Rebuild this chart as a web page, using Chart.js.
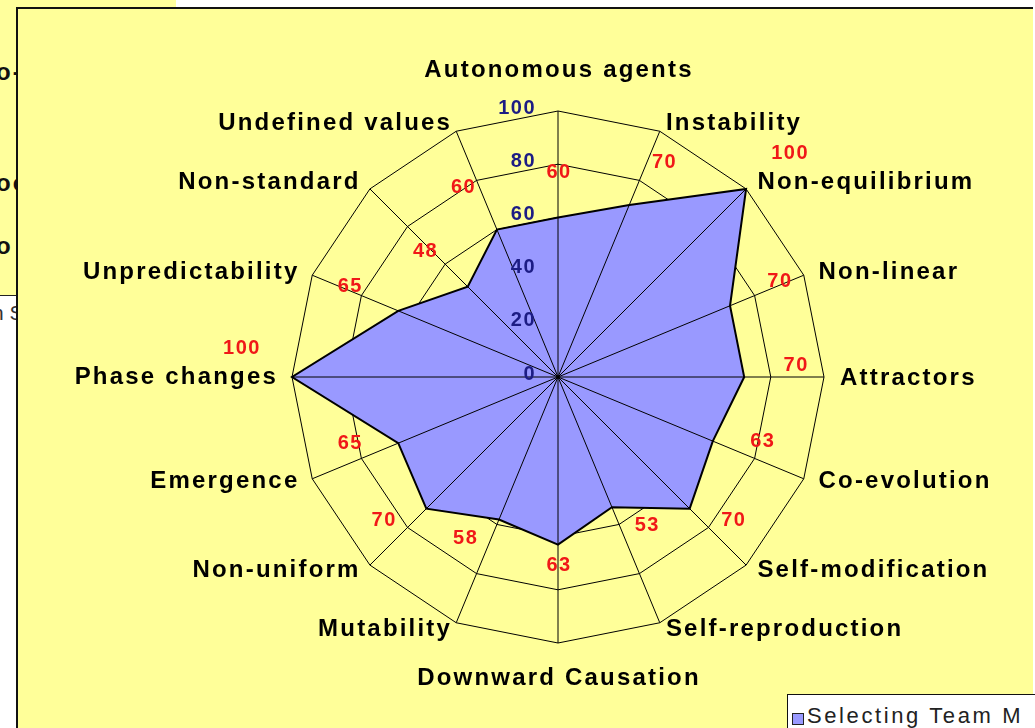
<!DOCTYPE html>
<html>
<head>
<meta charset="utf-8">
<script src="https://cdn.jsdelivr.net/npm/chart.js@4.4.1/dist/chart.umd.min.js"></script>
<style>
    html, body {
        margin: 0;
        padding: 0;
        width: 1035px;
        height: 728px;
        overflow: hidden;
        background: #ffffff;
        font-family: "Liberation Sans", Arial, sans-serif;
    }
    .back-chart {
        position: absolute;
        left: 0;
        top: 0;
        width: 176px;
        height: 295px;
        background: #ffff9c;
        border-bottom: 1px solid #222;
    }
    .back-chart span {
        position: absolute;
        font-size: 24px;
        font-weight: bold;
        letter-spacing: 2px;
        color: #111;
        line-height: 26px;
    }
    .back-legend {
        position: absolute;
        left: 0;
        top: 296px;
        width: 40px;
        height: 34px;
        background: #fff;
        overflow: hidden;
    }
    .back-legend span {
        position: absolute;
        left: -8px;
        top: 5px;
        font-size: 21px;
        color: #333;
        white-space: nowrap;
    }
    .frame {
        position: absolute;
        left: 16px;
        top: 7px;
        width: 1017px;
        height: 740px;
        box-sizing: border-box;
        background: #ffff99;
        border-left: 2px solid #111;
        border-top: 2px solid #111;
    }
    #radar-chart {
        position: absolute;
        left: 0;
        top: 0;
    }
    .legend {
        position: absolute;
        left: 787px;
        top: 694px;
        width: 320px;
        height: 50px;
        background: #fff;
        border: 1px solid #111;
        white-space: nowrap;
    }
    .legend .swatch {
        position: absolute;
        left: 4px;
        top: 18px;
        width: 10px;
        height: 10px;
        background: #9999ff;
        border: 1px solid #222;
    }
    .legend .text {
        position: absolute;
        left: 19px;
        top: 9px;
        font-size: 22px;
        letter-spacing: 2.6px;
        color: #222;
        line-height: 24px;
    }
</style>
</head>
<body>

<div class="back-chart">
    <span style="left:-4px; top:59px;">o-</span>
    <span style="left:-4px; top:170px;">oc</span>
    <span style="left:-4px; top:233px;">o</span>
</div>
<div class="back-legend"><span>n S</span></div>

<div class="frame"></div>

<canvas id="radar-chart" width="1035" height="728"></canvas>

<div class="legend">
    <div class="swatch"></div>
    <div class="text"></div>
</div>

<script>
const categories = [
    "Autonomous agents", "Instability", "Non-equilibrium", "Non-linear",
    "Attractors", "Co-evolution", "Self-modification", "Self-reproduction",
    "Downward Causation", "Mutability", "Non-uniform", "Emergence",
    "Phase changes", "Unpredictability", "Non-standard", "Undefined values"
];
const teamScores = [60, 70, 100, 70, 70, 63, 70, 53, 63, 58, 70, 65, 100, 65, 48, 60];
const tickValues = [0, 20, 40, 60, 80, 100];
const seriesName = "Selecting Team M";

const FONT = '"Liberation Sans", Arial, sans-serif';

document.querySelector('.legend .text').textContent = seriesName;

function boxesOverlap(a, b, margin) {
    return a.left < b.right + margin && a.right + margin > b.left &&
        a.top < b.bottom + margin && a.bottom + margin > b.top;
}

// excel draws spokes and all texts on top of the filled area
const overlayPlugin = {
    id: 'overlay',
    afterDatasetsDraw(chart) {
        const r = chart.scales.r;
        const ctx = chart.ctx;
        ctx.save();

        ctx.strokeStyle = '#000';
        ctx.lineWidth = 1;
        categories.forEach((name, i) => {
            const p = r.getPointPosition(i, r.drawingArea);
            ctx.beginPath();
            ctx.moveTo(r.xCenter, r.yCenter);
            ctx.lineTo(p.x, p.y);
            ctx.stroke();
        });

        // category labels
        ctx.font = 'bold 24px ' + FONT;
        ctx.letterSpacing = '2.2px';
        ctx.fillStyle = '#000';
        ctx.textBaseline = 'middle';
        const labelBoxes = [];

        categories.forEach((name, i) => {
            const a = r.getIndexAngle(i);
            const deg = Math.round(a * 180 / Math.PI) % 360;
            const w = ctx.measureText(name).width;
            let x, y, left;

            if (deg === 0 || deg === 180) {
                const p = r.getPointPosition(i, r.drawingArea + (deg === 0 ? 41 : 35));
                x = p.x + 1;
                y = p.y;
                ctx.textAlign = 'center';
                left = x - w / 2;
            } else {
                const p = r.getPointPosition(i, r.drawingArea + 16);
                const c = Math.cos(a);
                y = p.y + (c > 0 ? 1 + 6 * c : 9 * c);
                if (deg < 180) {
                    x = p.x;
                    ctx.textAlign = 'left';
                    left = x;
                } else {
                    x = p.x + 2;
                    ctx.textAlign = 'right';
                    left = x - w;
                }
            }
            ctx.fillText(name, x, y);
            labelBoxes.push({left: left, right: left + w, top: y - 12, bottom: y + 12});
        });

        // value scale along the top spoke
        ctx.font = 'bold 20px ' + FONT;
        ctx.letterSpacing = '1.5px';
        ctx.fillStyle = '#1c1c84';
        ctx.textAlign = 'right';
        tickValues.forEach(v => {
            const y = r.yCenter - r.getDistanceFromCenterForValue(v) - 3;
            ctx.fillText(String(v), r.xCenter - 22, y);
        });

        // red data labels
        ctx.fillStyle = '#f01818';
        ctx.textAlign = 'center';
        teamScores.forEach((v, i) => {
            const a = r.getIndexAngle(i);
            const p = r.getPointPosition(i, r.getDistanceFromCenterForValue(v));
            const s = Math.sin(a);
            const side = Math.abs(s) < 1e-6 ? 0 : Math.sign(s);
            const x = p.x + side * (24 + 27 * Math.abs(s));
            let y = p.y - 33 * Math.cos(a) - 12;
            const txt = String(v);
            const w = ctx.measureText(txt).width;
            let box = {left: x - w / 2, right: x + w / 2, top: y - 8, bottom: y + 8};
            while (labelBoxes.some(b => boxesOverlap(box, b, 9))) {
                y -= 1;
                box = {left: x - w / 2, right: x + w / 2, top: y - 8, bottom: y + 8};
            }
            ctx.fillText(txt, x + 1, y);
        });

        ctx.restore();
    }
};

const ctx = document.getElementById('radar-chart');

new Chart(ctx, {
    type: 'radar',
    data: {
        labels: categories,
        datasets: [{
            label: seriesName,
            data: teamScores,
            backgroundColor: '#9999ff',
            borderColor: '#000',
            borderWidth: 2,
            fill: true,
            pointRadius: 0,
            pointHoverRadius: 0
        }]
    },
    options: {
        responsive: false,
        animation: false,
        devicePixelRatio: 1,
        layout: {
            padding: {left: 292, top: 111, right: 211, bottom: 85}
        },
        plugins: {
            legend: {display: false},
            tooltip: {enabled: false}
        },
        elements: {
            line: {tension: 0}
        },
        scales: {
            r: {
                min: 0,
                max: 100,
                ticks: {
                    display: false,
                    stepSize: 20
                },
                grid: {
                    color: '#000',
                    lineWidth: 1
                },
                angleLines: {display: false},
                pointLabels: {display: false}
            }
        }
    },
    plugins: [overlayPlugin]
});
</script>
</body>
</html>
